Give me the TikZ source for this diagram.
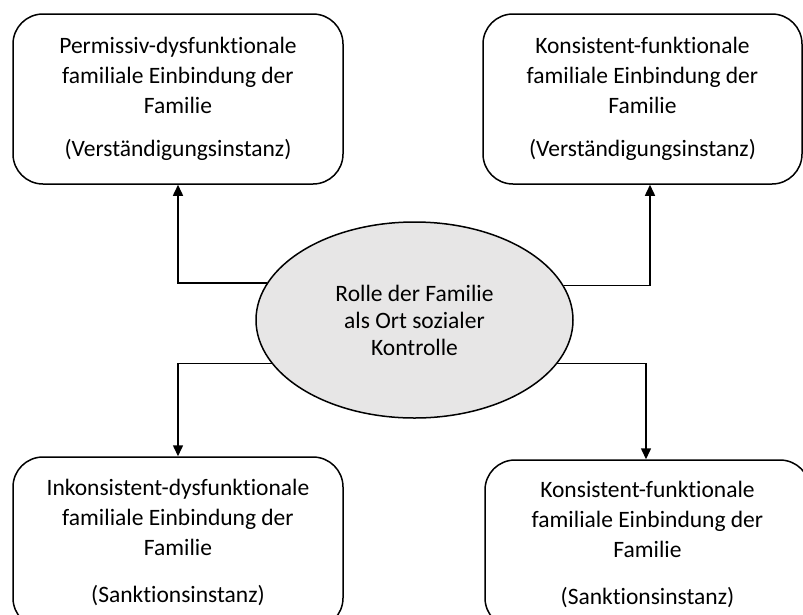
\documentclass[tikz,border=0pt]{standalone}
\usepackage{fontspec}
\setmainfont{Carlito}[Ligatures=NoCommon]
\usetikzlibrary{positioning,arrows.meta,shapes.geometric}
\definecolor{rolleFill}{HTML}{E7E6E6}
\tikzset{
  formbox/.style   = {rounded corners=30pt, draw=black, line width=1.5pt,
                      fill=white, align=center, inner sep=0pt,
                      font=\fontsize{23.5}{30}\selectfont},
  rollenode/.style = {ellipse, draw=black, line width=1.5pt, fill=rolleFill,
                      align=center, inner sep=0pt,
                      minimum width=317pt, minimum height=196pt,
                      font=\fontsize{23.5}{27}\selectfont},
  link/.style      = {-{Triangle[length=11pt,width=10pt]}, line width=1.5pt,
                      draw=black},
}

\begin{document}
\begin{tikzpicture}[x=1pt, y=-1pt]
  \useasboundingbox (0,0) rectangle (803,614);
  \clip (0,0) rectangle (803,614);

  \node[rollenode] (rolle) at (414.5,320)
    {Rolle der Familie\\als Ort sozialer\\Kontrolle};

  \node[formbox, minimum width=330pt, minimum height=170pt] (permissiv) at (178,99)
    {Permissiv-dysfunktionale\\familiale Einbindung der\\Familie\\[13pt](Verständigungsinstanz)};
  \node[formbox, minimum width=319pt, minimum height=170pt] (konsVer) at (642.5,99)
    {Konsistent-funktionale\\familiale Einbindung der\\Familie\\[13pt](Verständigungsinstanz)};
  \node[formbox, minimum width=330pt, minimum height=171pt] (inkons) at (178,542.5)
    {Inkonsistent-dysfunktionale\\familiale Einbindung der\\Familie\\[17pt](Sanktionsinstanz)};
  \node[formbox, minimum width=325pt, minimum height=168pt] (konsSank) at (647.5,544)
    {Konsistent-funktionale\\familiale Einbindung der\\Familie\\[17pt](Sanktionsinstanz)};

  \draw[link] (rolle.166.7) -| (permissiv.south);
  \draw[link] (rolle.13.3) -| ([xshift=7.5pt]konsVer.south);
  \draw[link] (rolle.197.3) -| (inkons.north);
  \draw[link] (rolle.-17.3) -| ([xshift=-1.5pt]konsSank.north);
\end{tikzpicture}
\end{document}
